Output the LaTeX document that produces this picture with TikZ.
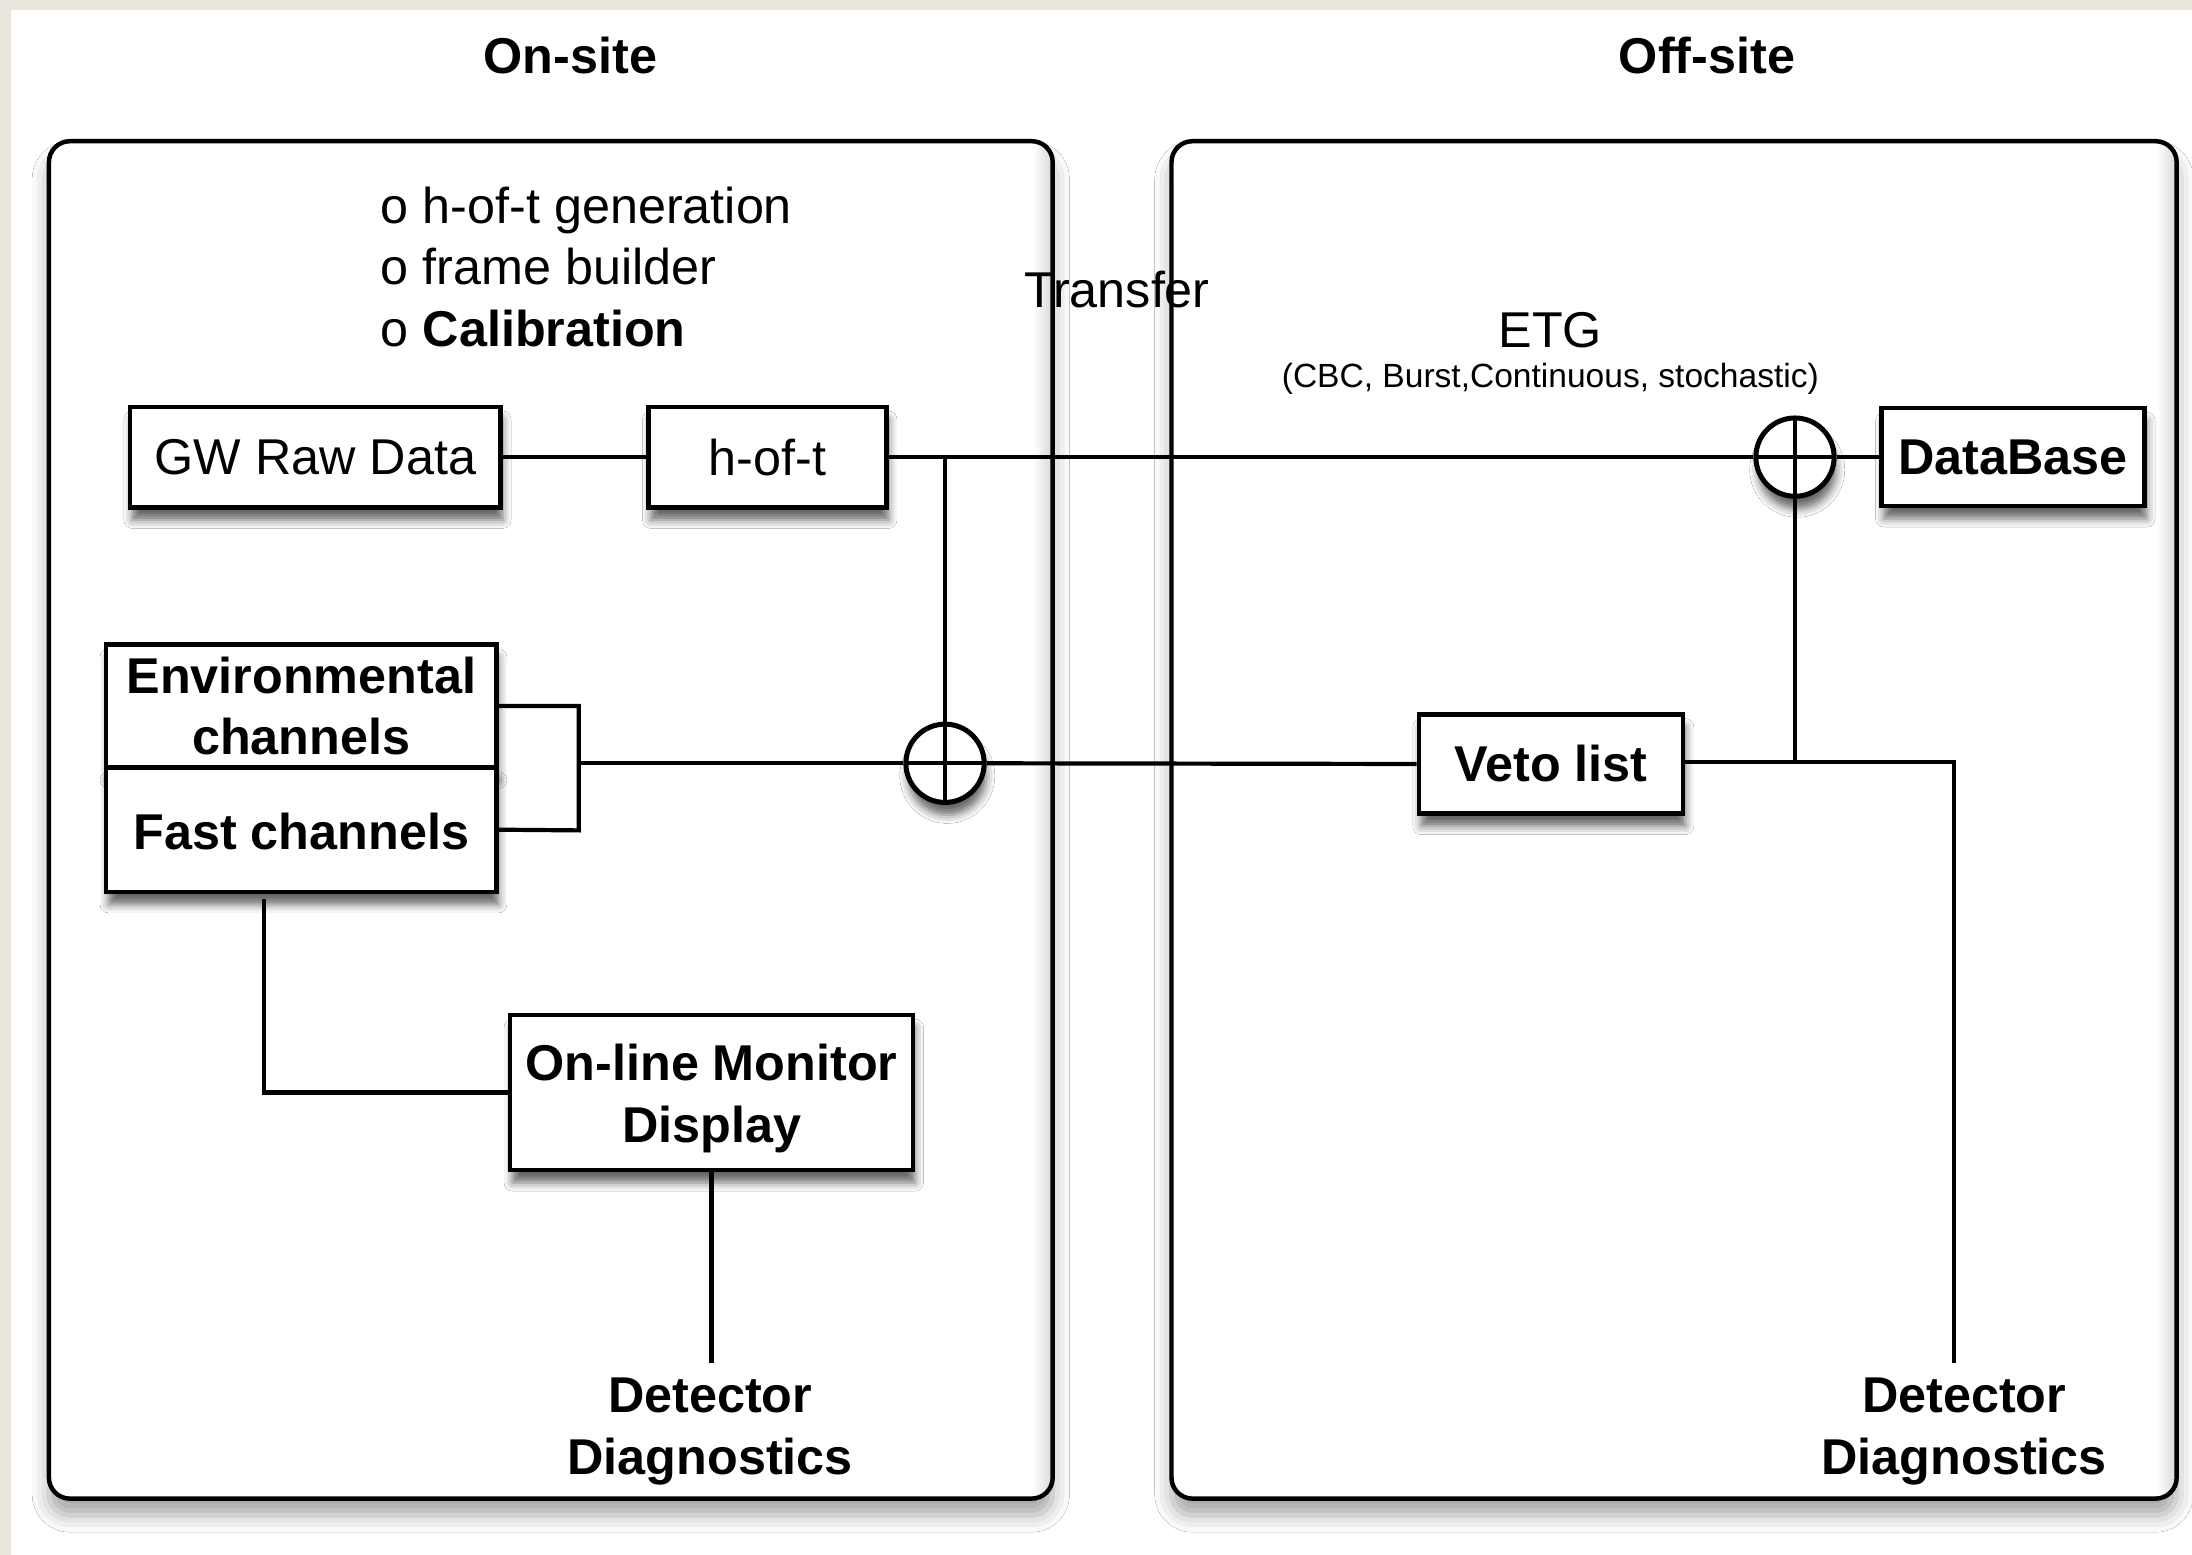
\documentclass[tikz,border=0pt]{standalone}
\usepackage{fontspec}
\setmainfont{Liberation Sans}
\usetikzlibrary{shadows.blur,calc}
\definecolor{bgbeige}{HTML}{E8E5DA}
\begin{document}
\begin{tikzpicture}[x=0.5pt,y=-0.5pt,
  txt/.style={font=\fontsize{18}{22}\selectfont, align=center, inner sep=0pt},
  btxt/.style={font=\fontsize{18}{22}\selectfont\bfseries, align=center, inner sep=0pt},
  shd/.style={blur shadow={shadow xshift=0.8pt, shadow yshift=-4.5pt, shadow blur radius=3pt, shadow opacity=60}},
  box/.style={draw, line width=1.6pt, fill=white, inner sep=0pt, shd},
  panel/.style={rounded corners=7.5pt, fill=white, inner sep=0pt, outer sep=0pt,
    blur shadow={shadow xshift=0pt, shadow yshift=-6pt, shadow blur radius=6pt, shadow opacity=35}},
  panelline/.style={line width=1.6pt, rounded corners=7.5pt},
  conn/.style={line width=1.5pt},
  sumnode/.style={circle, draw, line width=1.8pt, fill=white, minimum size=28pt, inner sep=0pt, shd,
    path picture={\draw[line width=1.4pt] (path picture bounding box.north) -- (path picture bounding box.south)
      (path picture bounding box.west) -- (path picture bounding box.east);}}
]
\useasboundingbox (0,0) rectangle (1568,1112);
\fill[bgbeige] (0,0) rectangle (1568,1112);
\fill[white] (8,7) rectangle (1568,1112);

% titles
\node[btxt] (ton) at (408,40) {On-site};
\node[btxt] (toff) at (1221,40) {Off-site};

% panels
\node[panel, minimum width=359pt, minimum height=485.5pt] (onsite) at (394,586.5) {};
\node[panel, minimum width=359.5pt, minimum height=485.5pt] (offsite) at (1197.5,586.5) {};

% inner shading of the panels (top and right edges) and outline
\foreach \p in {onsite,offsite}{
  \begin{scope}
    \clip[rounded corners=7.5pt] (\p.north west) rectangle (\p.south east);
    \shade[top color=black!20, bottom color=white] (\p.north west) rectangle ($(\p.north east)+(0,-14)$);
    \shade[left color=white, right color=black!16] ($(\p.north east)+(-14,0)$) rectangle (\p.south east);
  \end{scope}
  \draw[panelline] (\p.north west) rectangle (\p.south east);
}

% free texts
\node[txt, align=left, anchor=west] (list) at (272,191) {o h-of-t generation\\o frame builder\\o \textbf{Calibration}};
\node[txt] (transfer) at (799,207) {Transfer};
\node[txt] (etg) at (1109,236) {ETG};
\node[txt, font=\fontsize{12}{14}\selectfont] (etgsub) at (1109,271) {(CBC, Burst,Continuous, stochastic)};

% boxes
\node[box, txt, minimum width=132.5pt, minimum height=36pt] (gw) at (225.5,327) {GW Raw Data};
\node[box, txt, minimum width=85pt, minimum height=36pt] (hoft) at (549,327) {h-of-t};
\node[box, btxt, minimum width=94pt, minimum height=35pt] (db) at (1440,327) {DataBase};
\node[box, btxt, minimum width=139.5pt, minimum height=44pt] (env) at (215.5,505) {Environmental\\channels};
\node[box, btxt, minimum width=139.5pt, minimum height=44.5pt] (fast) at (215.5,593.5) {\rule{0pt}{14.5pt}Fast channels};
\node[box, btxt, minimum width=94.5pt, minimum height=35.5pt] (veto) at (1109.5,546.5) {Veto list};
\node[box, btxt, minimum width=144pt, minimum height=55.5pt] (mon) at (509,781.5) {\rule{0pt}{17.4pt}On-line Monitor\\Display};
\node[sumnode] (c1) at (1284,327) {};
\node[sumnode] (c2) at (676,546) {};

\node[btxt] (dd1) at (508,1024) {Detector\\Diagnostics};
\node[btxt] (dd2) at (1405,1024) {Detector\\Diagnostics};

% junction coordinates
\coordinate (j1) at (676,327);
\coordinate (j2) at (1284,545);
\coordinate (k) at (1398,545);
\coordinate (brt) at (414,505);
\coordinate (brb) at (414,594);
\coordinate (brm) at (414,546);
\coordinate (m1) at (189,643);
\coordinate (e1) at (509,975);
\coordinate (e2) at (1398,975);

% connectors
\draw[conn] (gw) -- (hoft);
\draw[conn] (hoft.east) -- (c1.west);
\draw[conn] (c1.east) -- (db.west);
\draw[conn] (j1) -- (c2.north);
\draw[conn] (env.east) -- (brt) -- (brb) -- (fast.east);
\draw[conn] (brm) -- (c2.west);
\draw[conn] (c2.east) -- (veto.west);
\draw[conn] (veto.east |- j2) -- (j2) -- (k) -- (e2);
\draw[conn] (c1.south) -- (j2);
\draw[conn] (m1) |- (mon.west);
\draw[conn] (mon.south) -- (e1);
\end{tikzpicture}
\end{document}
